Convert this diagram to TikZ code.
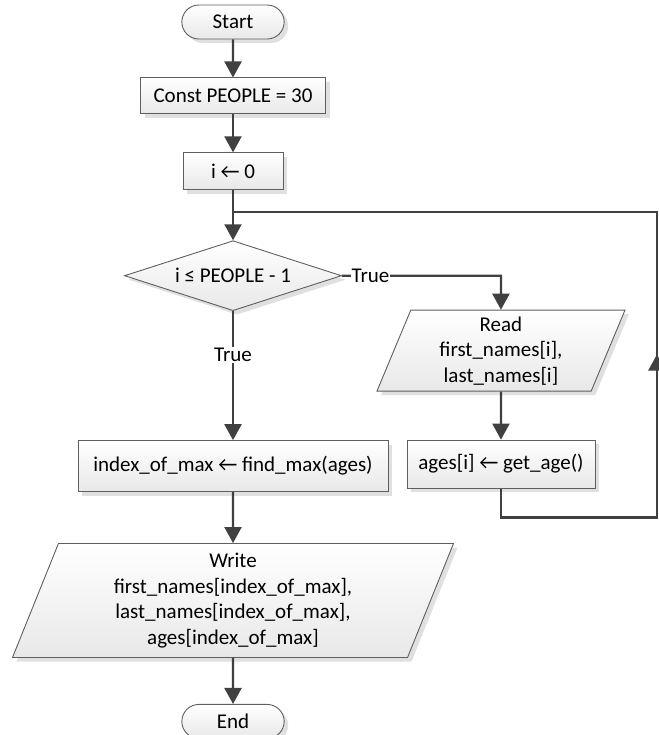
\documentclass[tikz,border=0pt]{standalone}
\usepackage{fontspec}
\setmainfont{Carlito}
\usetikzlibrary{arrows.meta, positioning, shapes.geometric, shapes.misc, shadows}

\definecolor{linegray}{HTML}{404040}
\definecolor{boxgray}{HTML}{5F5F5F}

\begin{document}
\begin{tikzpicture}[
  x=1pt, y=1pt,
  font=\fontsize{21}{25.5}\selectfont,
  base/.style={draw=boxgray, line width=0.9pt, top color=white, bottom color=black!9,
    drop shadow={shadow xshift=4pt, shadow yshift=-4pt, fill=black!12, opacity=1}},
  terminal/.style={base, rounded rectangle, minimum width=109pt, minimum height=34pt},
  process/.style={base, rectangle, inner sep=4pt},
  decision/.style={base, diamond, aspect=3.1, inner sep=0pt, minimum width=217pt, minimum height=70pt},
  io/.style={base, trapezium, trapezium left angle=65, trapezium right angle=115,
    trapezium stretches body, align=center, inner sep=2pt},
  flow/.style={-{Triangle[length=16pt, width=17pt]}, line width=2.2pt, draw=linegray},
  link/.style={line width=2.2pt, draw=linegray},
  lbl/.style={fill=white, inner sep=1pt}
]
\useasboundingbox (0,0) rectangle (658,-735);

\node[terminal] (start) at (233,-22) {Start};
\node[process, below=38pt of start, minimum width=185pt, minimum height=36pt] (const) {Const PEOPLE = 30};
\node[process, below=38pt of const, minimum width=100pt, minimum height=37pt] (init) {i ← 0};
\node[decision, below=50pt of init] (cond) {i ≤ PEOPLE - 1};
\node[io, below=34pt of cond.east, xshift=159pt, minimum width=248pt, minimum height=81pt] (read)
  {Read\\first\_names[i],\\last\_names[i]};
\node[process, below=48pt of read, minimum width=188pt, minimum height=48pt] (ages) {ages[i] ← get\_age()};
\node[process, below=129pt of cond, minimum width=310pt, minimum height=51pt] (index)
  {index\_of\_max ← find\_max(ages)};
\node[io, below=51pt of index, minimum width=441pt, minimum height=114pt] (write)
  {Write\\first\_names[index\_of\_max],\\last\_names[index\_of\_max],\\ages[index\_of\_max]};
\node[terminal, below=46pt of write] (end) {End};

% loop back
\coordinate[below=22pt of init] (join);
\coordinate[below=29pt of ages] (loopa);
\coordinate[right=156pt of loopa] (loopb);
\coordinate[above=163pt of loopb] (loopc);

\draw[flow] (start) -- (const);
\draw[flow] (const) -- (init);
\draw[flow] (init) -- (cond);
\draw[flow] (cond.east) -- node[lbl, pos=0.18] {True} (cond.east -| read.north) -- (read);
\draw[flow] (read) -- (ages);
\draw[link] (ages) -- (loopa) -- (loopb) -- (loopb |- join) -- (join);
\draw[flow] (loopb) -- (loopc);
\draw[flow] (cond) -- node[lbl, pos=0.34] {True} (index);
\draw[flow] (index) -- (write);
\draw[flow] (write) -- (end);
\end{tikzpicture}
\end{document}
